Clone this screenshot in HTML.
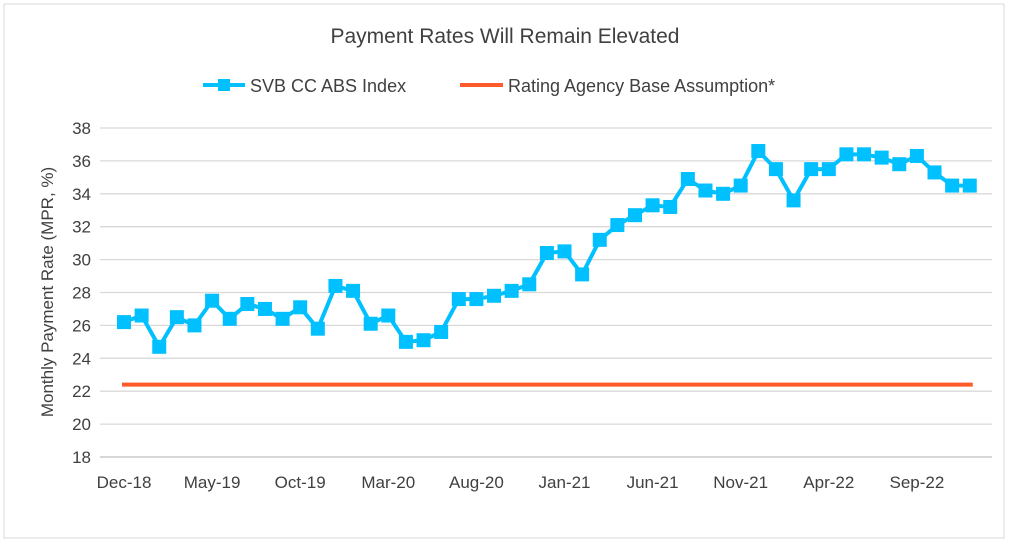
<!DOCTYPE html>
<html><head><meta charset="utf-8"><style>
body{margin:0;background:#fff;font-family:"Liberation Sans",sans-serif;}
svg{display:block}
</style></head><body>
<svg width="1009" height="551" id="c">
<rect x="4" y="4" width="1000" height="534" fill="#fff" stroke="#d9d9d9"/>
<text x="505" y="43" text-anchor="middle" font-size="21" fill="#404040">Payment Rates Will Remain Elevated</text>
<g>
<line x1="203" y1="85" x2="245" y2="85" stroke="#00c0ff" stroke-width="4"/>
<rect x="218" y="79" width="12" height="12" fill="#00c0ff"/>
<text x="250" y="92" font-size="18" fill="#404040">SVB CC ABS Index</text>
<line x1="460" y1="85" x2="503" y2="85" stroke="#ff5a2a" stroke-width="4"/>
<text x="508" y="92" font-size="18" fill="#404040">Rating Agency Base Assumption*</text>
</g>
<text transform="translate(53,292) rotate(-90)" text-anchor="middle" font-size="17" fill="#404040">Monthly Payment Rate (MPR, %)</text>
<g id="grid"></g><g id="xl"></g><g id="series"></g>
</svg>
<script>
const yTicks=[18,20,22,24,26,28,30,32,34,36,38];
const xLabels=["Dec-18","May-19","Oct-19","Mar-20","Aug-20","Jan-21","Jun-21","Nov-21","Apr-22","Sep-22"];
const svbValues=[26.2,26.6,24.7,26.5,26.0,27.5,26.4,27.3,27.0,26.4,27.1,25.8,28.4,28.1,26.1,26.6,25.0,25.1,25.6,27.6,27.6,27.8,28.1,28.5,30.4,30.5,29.1,31.2,32.1,32.7,33.3,33.2,34.9,34.2,34.0,34.5,36.6,35.5,33.6,35.5,35.5,36.4,36.4,36.2,35.8,36.3,35.3,34.5,34.5];
const ratingValue=[22.4];
const NS="http://www.w3.org/2000/svg";
const y=v=>457-(v-18)*(329/20);
const x=i=>124+i*17.62;
function mk(t,a,p){const e=document.createElementNS(NS,t);for(const k in a)e.setAttribute(k,a[k]);p.appendChild(e);return e;}
const g=document.getElementById('grid');
yTicks.forEach(v=>{
 const l=mk('line',{x1:100,x2:992,y1:y(v),y2:y(v),stroke:v===18?'#bfbfbf':'#d9d9d9','stroke-width':1.3},g);
 
 
 const t=mk('text',{x:91,y:y(v)+6,'text-anchor':'end','font-size':17,fill:'#404040'},g);
 t.textContent=v;
 
 
});
const xl=document.getElementById('xl');
xLabels.forEach((s,i)=>{
 const t=mk('text',{x:x(i*5),y:488,'text-anchor':'middle','font-size':17,fill:'#404040'},xl);
 t.textContent=s;
 
 
});
const sg=document.getElementById('series');
const r=mk('line',{x1:x(0)-2,x2:x(svbValues.length-1)+3,y1:y(ratingValue[0]),y2:y(ratingValue[0]),stroke:'#ff5a2a','stroke-width':4},sg);


const pl=mk('polyline',{points:svbValues.map((v,i)=>x(i)+','+y(v)).join(' '),fill:'none',stroke:'#00c0ff','stroke-width':4,'stroke-linejoin':'round'},sg);


svbValues.forEach((v,i)=>{
 const m=mk('rect',{x:x(i)-7,y:y(v)-7,width:14,height:14,fill:'#00c0ff'},sg);
 
 
});
</script>
</body></html>
